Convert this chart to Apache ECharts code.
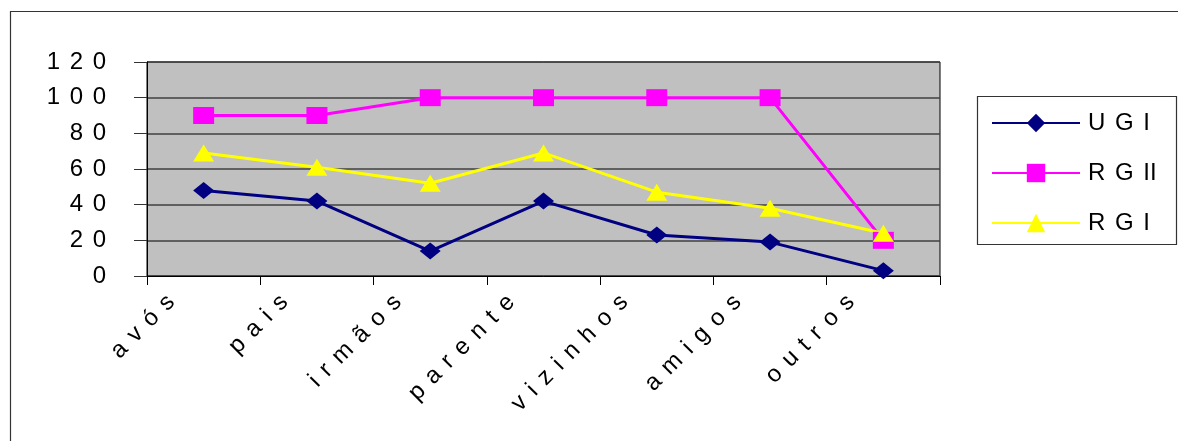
<!DOCTYPE html>
<html>
<head>
<meta charset="utf-8">
<script src="https://cdn.jsdelivr.net/npm/echarts@6/dist/echarts.min.js"></script>
<style>
html,body{margin:0;padding:0;background:#fff;}
#chart{width:1178px;height:441px;}
</style>
</head>
<body>
<div id="chart"></div>
<script>
const categories = ['avós', 'pais', 'irmãos', 'parente', 'vizinhos', 'amigos', 'outros'];
const seriesNames = ['UGI', 'RGII', 'RGI'];
const ugi = [48, 42, 14, 42, 23, 19, 3];
const rgii = [90, 90, 100, 100, 100, 100, 20];
const rgi = [69, 61, 52, 69, 47, 38, 24];
const yTicks = { min: 0, max: 120, interval: 20 };

const FONT = "'Liberation Sans', Arial, sans-serif";
const GAP = '\u2009\u2009';
function spaced(s) {
  const toks = String(s).match(/I+|./g) || [];
  return toks.join(GAP);
}

const chart = echarts.init(document.getElementById('chart'), null, { renderer: 'canvas' });

function mk(name, data, color, symbol) {
  return {
    name: name,
    type: 'line',
    data: data,
    symbol: symbol,
    symbolSize: [21, 17],
    showSymbol: true,
    lineStyle: { color: color, width: 3 },
    itemStyle: { color: color },
    emphasis: { disabled: true },
    animation: false
  };
}

chart.setOption({
  animation: false,
  backgroundColor: '#ffffff',
  grid: {
    left: 147, top: 62, right: 238, bottom: 165,
    show: true, backgroundColor: '#C0C0C0', borderColor: '#000', borderWidth: 1
  },
  xAxis: {
    type: 'category',
    data: categories,
    boundaryGap: true,
    axisLine: { show: true, lineStyle: { color: '#000', width: 1 } },
    axisTick: { show: true, length: 9, alignWithLabel: false, lineStyle: { color: '#000' } },
    splitLine: { show: false },
    axisLabel: {
      interval: 0,
      rotate: 45,
      margin: -10,
      color: '#000',
      fontSize: 24,
      fontFamily: FONT,
      padding: [0, 46, 0, 0],
      formatter: function (v) { return spaced(v); }
    }
  },
  yAxis: {
    type: 'value',
    min: yTicks.min, max: yTicks.max, interval: yTicks.interval,
    axisLine: { show: true, lineStyle: { color: '#000', width: 1 } },
    axisTick: { show: true, length: 13, lineStyle: { color: '#333' } },
    splitLine: { show: true, lineStyle: { color: '#404040', width: 1.5 } },
    axisLabel: {
      margin: 41,
      color: '#000',
      fontSize: 24,
      fontFamily: FONT,
      padding: [0, 0, 8, 0],
      formatter: function (v) { return spaced(v); }
    }
  },
  legend: {
    orient: 'vertical',
    left: 991, top: 111,
    padding: 0,
    itemWidth: 88,
    itemHeight: 23,
    itemGap: 26,
    selectedMode: false,
    data: seriesNames,
    textStyle: { color: '#000', fontSize: 24, fontFamily: FONT, padding: [0, 0, 0, 3] },
    formatter: function (n) { return spaced(n); }
  },
  graphic: [
    { type: 'rect', silent: true, z: 100, shape: { x: 10.5, y: 11.5, width: 1300, height: 600 }, style: { fill: 'none', stroke: '#333', lineWidth: 1.2 } },
    { type: 'rect', silent: true, z: 100, shape: { x: 977.5, y: 96.5, width: 199, height: 148 }, style: { fill: 'none', stroke: '#333', lineWidth: 1.2 } }
  ],
  series: [
    mk(seriesNames[0], ugi, '#000080', 'diamond'),
    mk(seriesNames[1], rgii, '#FF00FF', 'rect'),
    mk(seriesNames[2], rgi, '#FFFF00', 'triangle')
  ]
});
</script>
</body>
</html>
